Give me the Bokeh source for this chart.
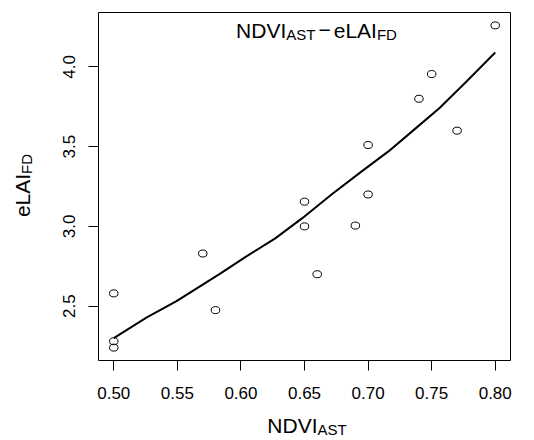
import math
from bokeh.plotting import figure
from bokeh.models import (Range1d, FixedTicker, NumeralTickFormatter, Label,
                          LinearAxis, BoxAnnotation)
from bokeh.core.properties import value
from bokeh.embed import file_html
from bokeh.resources import INLINE

# ---- data ----
ndvi_ast = [0.50, 0.50, 0.50, 0.57, 0.58, 0.65, 0.65, 0.66, 0.69, 0.70, 0.70, 0.74, 0.75, 0.77, 0.80]
elai_fd = [2.58, 2.28, 2.24, 2.83, 2.475, 3.155, 3.00, 2.70, 3.005, 3.51, 3.20, 3.80, 3.955, 3.60, 4.26]

fit_x = [0.50, 0.526, 0.549, 0.565, 0.584, 0.604, 0.627, 0.648, 0.672, 0.695, 0.716, 0.736, 0.756, 0.777, 0.80]
fit_y = [2.30, 2.43, 2.53, 2.61, 2.705, 2.81, 2.925, 3.05, 3.205, 3.345, 3.47, 3.605, 3.74, 3.905, 4.09]

x_ticks = [0.50, 0.55, 0.60, 0.65, 0.70, 0.75, 0.80]
y_ticks = [2.5, 3.0, 3.5, 4.0]

# R-style 4% range extension -> the plot box
def ext(vals):
    lo, hi = min(vals), max(vals)
    d = (hi - lo) * 0.04
    return lo - d, hi + d

x0, x1 = ext(ndvi_ast)
y0, y1 = ext(elai_fd)

W, H = 534, 440
BOX_L, BOX_R, BOX_T, BOX_B = 98, 510, 12, 360   # plot box in canvas px

sx = (BOX_R - BOX_L) / (x1 - x0)
sy = (BOX_B - BOX_T) / (y1 - y0)

def xd(px):
    return x0 + (px - BOX_L) / sx

def yd(py):
    return y0 + (BOX_B - py) / sy

p = figure(width=W, height=H, output_backend="svg", toolbar_location=None,
           x_range=Range1d(xd(0), xd(W)), y_range=Range1d(yd(H), yd(0)),
           x_axis_location=None, y_axis_location=None,
           min_border=0, min_border_left=0, min_border_right=0,
           min_border_top=0, min_border_bottom=0)
p.background_fill_color = "white"
p.border_fill_color = "white"
p.outline_line_color = None
p.xgrid.visible = False
p.ygrid.visible = False

xaxis = LinearAxis(fixed_location=y0, ticker=FixedTicker(ticks=x_ticks),
                   formatter=NumeralTickFormatter(format="0.00"))
yaxis = LinearAxis(fixed_location=x0, ticker=FixedTicker(ticks=y_ticks),
                   formatter=NumeralTickFormatter(format="0.0"))
for ax in (xaxis, yaxis):
    ax.axis_line_color = None
    ax.major_tick_in = 0
    ax.major_tick_out = 10
    ax.major_tick_line_color = "black"
    ax.minor_tick_line_color = None
    ax.major_label_text_font = "Liberation Sans"
    ax.major_label_text_font_size = "17px"
    ax.major_label_text_color = "black"
xaxis.major_label_standoff = 16
yaxis.major_label_standoff = 13
yaxis.major_label_orientation = "vertical"
p.add_layout(xaxis, "below")
p.add_layout(yaxis, "left")

# plot box
p.add_layout(BoxAnnotation(left=x0, right=x1, bottom=y0, top=y1, fill_color=None,
                           fill_alpha=0, line_color="black", line_width=1, line_alpha=1))

p.line(fit_x, fit_y, line_color="black", line_width=2)
p.ellipse(x=ndvi_ast, y=elai_fd, width=8.5, height=7, width_units="screen", height_units="screen",
          fill_color=None, line_color="black", line_width=1)

# ---- texts with subscripts ----
ARIAL = {"N": 722, "D": 722, "V": 667, "I": 278, "A": 667, "S": 667, "T": 611,
         "e": 556, "L": 556, "F": 611, "\u2212": 584}

def tw(s, size):
    return sum(ARIAL[c] for c in s) / 1000 * size

FONT = "Liberation Sans"

def hrow(pieces, cx, mid):
    total = sum(tw(t, s) + g for t, s, dy, g in pieces)
    px = cx - total / 2
    for t, s, dy, g in pieces:
        px += g
        p.add_layout(Label(x=xd(px), y=yd(mid + dy), text=t, text_font=FONT,
                           text_font_size=f"{s}px", text_align="left",
                           text_baseline="middle", text_color="black"))
        px += tw(t, s)

def vrow(pieces, cy, mid):
    total = sum(tw(t, s) + g for t, s, dy, g in pieces)
    py = cy + total / 2
    for t, s, dy, g in pieces:
        py -= g
        p.text(x=[xd(mid + dy)], y=[yd(py)], text=[t], angle=math.pi / 2,
               text_font=value(FONT), text_font_size=value(f"{s}px"),
               text_align="left", text_baseline="middle", text_color="black")
        py -= tw(t, s)

title_pieces = [("NDVI", 21, 0, 0), ("AST", 15, 4.5, 0), ("\u2212", 21, 0, 3),
                ("eLAI", 21, 0, 3), ("FD", 15, 4.5, 0)]
hrow(title_pieces, 316, 29.5)

xlab_pieces = [("NDVI", 21, 0, 0), ("AST", 15, 4, 0)]
hrow(xlab_pieces, 306.5, 424.5)

ylab_pieces = [("eLAI", 21, 0, 0), ("FD", 15, 4, 0)]
vrow(ylab_pieces, 185, 22)

open("out.html", "w").write(file_html(p, INLINE))
